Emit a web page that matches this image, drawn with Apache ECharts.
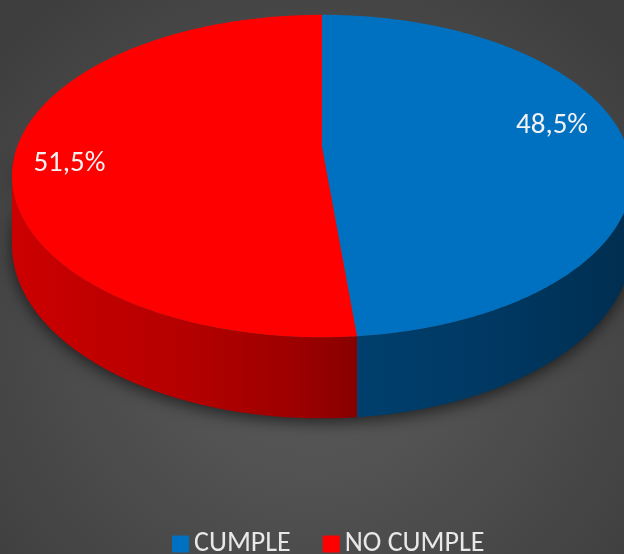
<!DOCTYPE html>
<html>
<head>
<meta charset="utf-8">
<script src="https://cdn.jsdelivr.net/npm/echarts@6/dist/echarts.min.js"></script>
<style>
  html, body { margin: 0; padding: 0; background: #4a4a4a; }
  #chart { width: 624px; height: 554px; }
</style>
</head>
<body>
<div id="chart"></div>
<script>
// Data
const categories = ['CUMPLE', 'NO CUMPLE'];
const shares = [48.5, 51.5];

// Styles
const topColors = ['#0071c1', '#ff0000'];
const wallStops = [
  [[0, '#003f6e'], [0.5, '#003862'], [1, '#002e50']],
  [[0, '#cc0000'], [0.55, '#b20000'], [0.85, '#9a0000'], [1, '#880000']]
];
const FONT = "Carlito, 'Liberation Sans Narrow', Lato, sans-serif";

// Tilted disc seen in perspective
const CX = 322, CY = 147, RX = 305, RY = 156, PERSP = 0.18, DEPTH = 66.5;
const LABEL_R = 0.8, LABEL_TURN = -6, LABEL_DX = -6, LABEL_DY = -3;
const DEG = Math.PI / 180;

// t: degrees clockwise from the far point of the disc, r: 0..1, h: drop in px
function project(t, r, h) {
  const X = r * Math.sin(t * DEG);
  const Z = -r * Math.cos(t * DEG);
  const w = 1 / (1 - PERSP * Z);
  return [CX + RX * X * w, CY + (RY * Z + h) * w];
}
function arc(t0, t1, h) {
  const n = Math.max(2, Math.ceil(Math.abs(t1 - t0) * 2));
  const pts = [];
  for (let i = 0; i <= n; i++) pts.push(project(t0 + (t1 - t0) * i / n, 1, h));
  return pts;
}
// front part of the rim that faces the viewer
const VIS0 = Math.acos(-PERSP) / DEG;
const VIS1 = 360 - VIS0;

const total = shares.reduce((a, b) => a + b, 0);
const startAngles = shares.map((_, i) =>
  shares.slice(0, i).reduce((a, b) => a + b, 0) / total * 360);

function fmt(v) { return v.toFixed(1).replace('.', ',') + '%'; }

function sliceRenderer(idx) {
  return function (params, api) {
    const value = api.value(0);
    const t0 = startAngles[idx];
    const t1 = t0 + value / total * 360;
    const children = [];

    const a = Math.max(t0, VIS0), b = Math.min(t1, VIS1);
    if (a < b) {
      const pts = arc(a, b, 0).concat(arc(b, a, DEPTH));
      const xs = pts.map(p => p[0]);
      const x0 = Math.min.apply(null, xs), x1 = Math.max.apply(null, xs);
      children.push({
        type: 'polygon',
        shape: { points: pts },
        style: {
          fill: new echarts.graphic.LinearGradient(x0, 0, x1, 0,
            wallStops[idx].map(s => ({ offset: s[0], color: s[1] })), true)
        }
      });
    }

    children.push({
      type: 'polygon',
      shape: { points: [project(0, 0, 0)].concat(arc(t0, t1, 0)) },
      style: { fill: topColors[idx] }
    });

    const mid = (t0 + t1) / 2 + LABEL_TURN;
    const lp = project(mid, LABEL_R, 0);
    children.push({
      type: 'text',
      z2: 10,
      style: {
        text: fmt(value),
        x: lp[0] + LABEL_DX,
        y: lp[1] + LABEL_DY,
        align: 'center',
        verticalAlign: 'middle',
        fill: '#f2f2f2',
        font: '29px ' + FONT
      }
    });
    return { type: 'group', children: children };
  };
}

// soft shadow under the rim
function shadowRenderer() {
  const pts = arc(VIS0 - 8, VIS1 + 8, 0).concat(arc(VIS1 + 8, VIS0 - 8, DEPTH));
  return {
    type: 'polygon',
    shape: { points: pts },
    style: {
      fill: '#2e2e2e',
      shadowBlur: 16,
      shadowOffsetY: 4,
      shadowColor: 'rgba(0,0,0,0.6)'
    }
  };
}

const series = [{
  type: 'custom',
  name: 'base',
  coordinateSystem: 'none',
  silent: true,
  z: 1,
  data: [[0]],
  renderItem: shadowRenderer
}].concat(categories.map((name, i) => ({
  type: 'custom',
  name: name,
  coordinateSystem: 'none',
  z: 3,
  itemStyle: { color: topColors[i] },
  data: [[shares[i]]],
  renderItem: sliceRenderer(i)
})));

const chart = echarts.init(document.getElementById('chart'), null, { renderer: 'canvas' });
chart.setOption({
  animation: false,
  backgroundColor: new echarts.graphic.RadialGradient(0.5, 0.58, 0.75, [
    { offset: 0, color: '#5e5e5e' },
    { offset: 1, color: '#3e3e3e' }
  ]),
  legend: {
    data: categories,
    left: 172,
    top: 530,
    padding: 0,
    icon: 'rect',
    itemWidth: 17,
    itemHeight: 17,
    itemGap: 32,
    textStyle: { color: '#e8e8e8', fontSize: 28, fontFamily: FONT }
  },
  series: series
});
</script>
</body>
</html>
